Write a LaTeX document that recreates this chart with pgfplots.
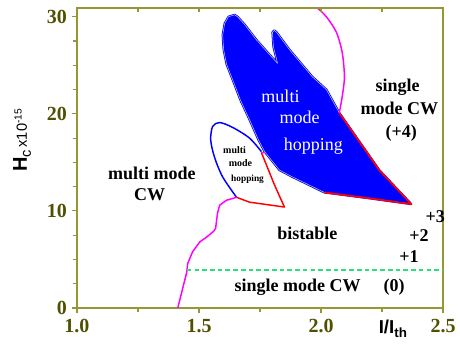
\documentclass[border=0pt]{standalone}
\usepackage{fontspec}
\setmainfont{Liberation Serif}
\newfontfamily\arialfont{Liberation Sans}
\usepackage{pgfplots}
\pgfplotsset{compat=1.18}
\definecolor{axiscol}{RGB}{150,150,50}
\definecolor{ticklab}{RGB}{80,80,0}
\definecolor{mag}{RGB}{255,0,255}
\definecolor{mint}{RGB}{40,225,120}
\newcommand{\lbl}{\fontsize{13.5}{15}\selectfont\bfseries}
\newcommand{\wlbl}{\fontsize{13.5}{15}\selectfont}
\begin{document}
\begin{tikzpicture}
\begin{axis}[
  scale only axis, width=274.5pt, height=225pt,
  xmin=1, xmax=2.5, ymin=0, ymax=30.9,
  axis line style={axiscol, line width=0.8pt},
  tick style={axiscol, line width=0.8pt},
  major tick length=4pt, minor tick length=3pt,
  tick align=outside, xtick pos=bottom, ytick pos=left,
  xtick={1,1.5,2,2.5}, xticklabels={1.0,1.5,2.0,2.5},
  minor xtick={1.25,1.75,2.25},
  ytick={0,10,20,30}, yticklabels={0,10,20,30},
  minor ytick={2.5,5,7.5,12.5,15,17.5,22.5,25,27.5},
  /pgf/number format/assume math mode=true,
  tick label style={font=\fontsize{15}{16}\selectfont\bfseries, text=ticklab},
  xticklabel style={yshift=-1pt},
  yticklabel style={xshift=0pt},
  xlabel={{\arialfont\fontsize{14}{15}\selectfont\bfseries I/I\raisebox{-0.45ex}{\fontsize{10}{11}\selectfont th}}},
  x label style={at={(axis description cs:0.863,-0.07)}, anchor=center},
  ylabel={{\arialfont\fontsize{15}{16}\selectfont\bfseries H}{\arialfont\fontsize{11}{12}\selectfont\raisebox{-0.5ex}{c}\,x10\textsuperscript{-15}}},
  y label style={at={(axis description cs:-0.15,0.56)}, anchor=center},
  clip=false,
]
% big multi mode hopping region
\addplot[fill=blue, draw=blue, line width=1.6pt, line join=round] coordinates {
(1.646,30.2) (1.621,30.0) (1.605,29.3) (1.597,28.1) (1.601,26.6) (1.613,25.1)
(1.638,23.5) (1.670,21.4) (1.707,19.4) (1.744,17.3) (1.769,16.1) (1.830,14.2)
(1.883,13.5) (2.014,11.9) (2.198,11.3) (2.370,10.7) (2.239,14.2) (2.075,20.1)
(2.022,22.5) (1.965,23.8) (1.871,26.6) (1.818,28.4) (1.809,28.6) (1.801,28.4)
(1.805,26.9) (1.822,25.2) (1.789,26.1) (1.736,27.6) (1.687,29.2) (1.658,30.0)
} --cycle;
\addplot[draw=white!75!blue, line width=0.4pt, line join=round] coordinates {
(1.646,30.2) (1.621,30.0) (1.605,29.3) (1.597,28.1) (1.601,26.6) (1.613,25.1)
(1.638,23.5) (1.670,21.4) (1.707,19.4) (1.744,17.3) (1.769,16.1) (1.830,14.2)
(1.883,13.5) (2.014,11.9) (2.198,11.3) (2.370,10.7) (2.239,14.2) (2.075,20.1)
(2.022,22.5) (1.965,23.8) (1.871,26.6) (1.818,28.4) (1.809,28.6) (1.801,28.4)
(1.805,26.9) (1.822,25.2) (1.789,26.1) (1.736,27.6) (1.687,29.2) (1.658,30.0)
} --cycle;
% red edges of big region
\addplot[red, line width=1.3pt, line join=round] coordinates {
(2.014,11.9) (2.198,11.3) (2.370,10.7) (2.239,14.2) (2.075,20.1)
};
% magenta upper boundary
\addplot[mag, line width=1.1pt, smooth, tension=0.5] coordinates {
(1.985,30.9) (2.022,30.0) (2.063,28.4) (2.087,26.3) (2.096,23.8) (2.087,21.8) (2.075,20.1)
};
% small multi mode hopping region
\addplot[blue, line width=1.1pt, smooth, tension=0.5] coordinates {
(1.756,16.1) (1.707,17.5) (1.638,18.6) (1.585,19.1) (1.556,18.7) (1.548,17.3)
(1.564,15.5) (1.597,13.5) (1.654,11.4)
};
\addplot[red, line width=1.1pt, line join=round] coordinates {
(1.654,11.4) (1.707,10.9) (1.850,10.4) (1.809,12.7) (1.756,16.0)
};
\addplot[mag, line width=1.1pt] coordinates {(1.756,16.0) (1.772,16.0)};
% magenta lower boundary
\addplot[mag, line width=1.1pt, line join=round] coordinates {
(1.654,11.4) (1.613,11.1) (1.585,10.6) (1.576,9.8) (1.568,8.2) (1.560,7.9)
(1.531,7.3) (1.503,6.8) (1.474,5.8) (1.454,4.6) (1.450,3.7) (1.413,0)
};
% green dashed
\addplot[mint, line width=1pt, dash pattern=on 3.5pt off 2.3pt] coordinates {(1.45,3.9) (2.5,3.9)};
% labels
\node[anchor=base, text=white] at (axis cs:1.834,21.2) {\wlbl multi};
\node[anchor=base, text=white] at (axis cs:1.912,19.0) {\wlbl mode};
\node[anchor=base, text=white] at (axis cs:1.969,16.2) {\wlbl hopping};
\node[anchor=base] at (axis cs:2.314,22.3) {\lbl single};
\node[anchor=base] at (axis cs:2.321,19.9) {\lbl mode CW};
\node[anchor=base] at (axis cs:2.329,17.6) {\lbl (+4)};
\node[anchor=base] at (axis cs:1.307,13.2) {\lbl multi mode};
\node[anchor=base] at (axis cs:1.298,11.1) {\lbl CW};
\node[anchor=base] at (axis cs:1.646,15.9) {\fontsize{7.5}{8}\selectfont\bfseries multi};
\node[anchor=base] at (axis cs:1.670,14.6) {\fontsize{7.5}{8}\selectfont\bfseries mode};
\node[anchor=base] at (axis cs:1.699,13.0) {\fontsize{7}{8}\selectfont\bfseries hopping};
\node[anchor=base] at (axis cs:1.944,7.1) {\lbl bistable};
\node[anchor=base] at (axis cs:2.468,8.8) {\lbl +3};
\node[anchor=base] at (axis cs:2.402,6.8) {\lbl +2};
\node[anchor=base] at (axis cs:2.361,4.7) {\lbl +1};
\node[anchor=base] at (axis cs:1.904,1.65) {\lbl single mode CW};
\node[anchor=base] at (axis cs:2.30,1.65) {\lbl (0)};
\end{axis}
\begin{axis}[
  scale only axis, width=274.5pt, height=225pt,
  xmin=1, xmax=2.5, ymin=0, ymax=30.9,
  axis x line*=top, axis y line=none,
  axis line style={axiscol, line width=0.8pt},
  tick style={axiscol, line width=0.8pt},
  tick align=inside, major tick length=3pt,
  xtick={1.25,1.5,1.75,2,2.25}, xticklabels={},
]
\end{axis}
\pgfresetboundingbox
\path (-57.75pt,-27.75pt) rectangle (287.25pt,231pt);
\end{tikzpicture}
\end{document}
